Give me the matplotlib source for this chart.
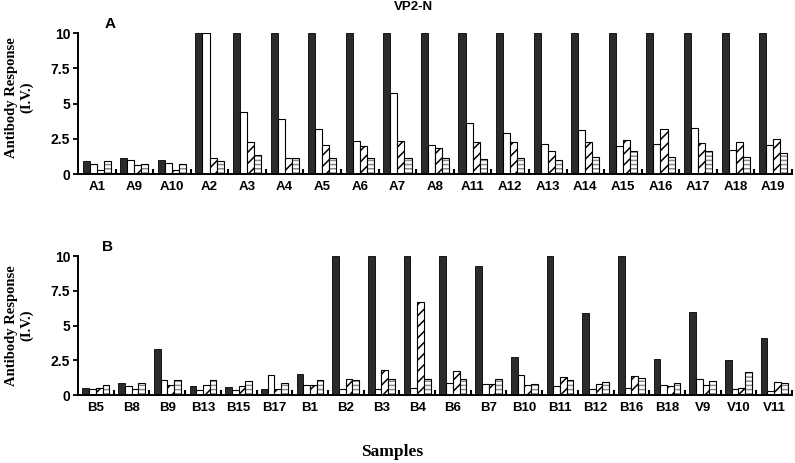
import matplotlib
matplotlib.use("Agg")
import matplotlib.pyplot as plt
import numpy as np

# ---------------- data ----------------
title = "VP2-N"
samples_a = ["A1", "A9", "A10", "A2", "A3", "A4", "A5", "A6", "A7", "A8",
             "A11", "A12", "A13", "A14", "A15", "A16", "A17", "A18", "A19"]
dark_a = [0.93, 1.17, 1.0, 10, 10, 10, 10, 10, 10, 10,
          10, 10, 10, 10, 10, 10, 10, 10, 10]
white_a = [0.69, 0.98, 0.77, 10, 4.38, 3.88, 3.23, 2.32, 5.74, 2.06,
           3.64, 2.89, 2.15, 3.16, 1.99, 2.13, 3.3, 1.72, 2.03]
diag_a = [0.31, 0.62, 0.29, 1.17, 2.25, 1.15, 2.06, 1.99, 2.34, 1.82,
          2.27, 2.27, 1.65, 2.27, 2.44, 3.23, 2.2, 2.27, 2.51]
horiz_a = [0.89, 0.72, 0.72, 0.91, 1.32, 1.15, 1.15, 1.12, 1.12, 1.17,
           1.05, 1.17, 0.98, 1.2, 1.63, 1.2, 1.63, 1.2, 1.51]

samples_b = ["B5", "B8", "B9", "B13", "B15", "B17", "B1", "B2", "B3", "B4",
             "B6", "B7", "B10", "B11", "B12", "B16", "B18", "V9", "V10", "V11"]
dark_b = [0.53, 0.89, 3.3, 0.69, 0.57, 0.45, 1.51, 10, 10, 10,
          10, 9.3, 2.73, 10, 5.88, 10, 2.58, 6.0, 2.54, 4.11]
white_b = [0.48, 0.67, 1.08, 0.38, 0.36, 1.44, 0.77, 0.43, 0.43, 0.5,
           0.86, 0.79, 1.46, 0.65, 0.48, 0.55, 0.74, 1.2, 0.45, 0.31]
diag_b = [0.55, 0.43, 0.72, 0.72, 0.67, 0.48, 0.77, 1.15, 1.84, 6.72,
          1.75, 0.79, 0.72, 1.32, 0.84, 1.41, 0.65, 0.72, 0.53, 0.96]
horiz_b = [0.72, 0.86, 1.08, 1.08, 1.03, 0.86, 1.08, 1.08, 1.2, 1.2,
           1.2, 1.2, 0.84, 1.08, 0.93, 1.22, 0.89, 1.03, 1.67, 0.89]

y_ticks = [0, 2.5, 5, 7.5, 10]
y_tick_labels = ["0", "2.5", "5", "7.5", "10"]

# ---------------- style ----------------
plt.rcParams["font.family"] = ["Liberation Sans", "DejaVu Sans"]
plt.rcParams["hatch.linewidth"] = 1.1

W, H = 795, 463
fig = plt.figure(figsize=(W / 100, H / 100), dpi=100)

def fx(px):
    return px / W

def fy(py):
    return 1 - py / H

ax_left, ax_right = 78, 792
axA = fig.add_axes([fx(ax_left), fy(174), fx(ax_right - ax_left), (174 - 33.3) / H])
axB = fig.add_axes([fx(ax_left), fy(395.3), fx(ax_right - ax_left), (395.3 - 256) / H])

dark_col = "#2b2b2b"
bw = 0.1875

def draw_panel(ax, names, dk, wh, dg, hz, label_y):
    n = len(names)
    x = np.arange(n) + 0.5
    ax.bar(x - 1.5 * bw, dk, bw, color=dark_col, edgecolor="black", linewidth=0.6)
    ax.bar(x - 0.5 * bw, wh, bw, color="white", edgecolor="black", linewidth=0.8)
    ax.bar(x + 0.5 * bw, dg, bw, color="white", edgecolor="black", linewidth=0.8,
           hatch="///")
    # horizontal hatch in grey, outline in black
    ax.bar(x + 1.5 * bw, hz, bw, color="white", edgecolor="#8a8a8a", linewidth=0,
           hatch="----")
    ax.bar(x + 1.5 * bw, hz, bw, fill=False, edgecolor="black", linewidth=0.8)
    ax.set_xlim(0, n)
    ax.set_ylim(0, 10)
    ax.set_xticks(x)
    ax.set_xticklabels(names, fontsize=9.5, fontweight="bold")
    ax.set_xticks(np.arange(1, n + 1), minor=True)
    ax.tick_params(axis="x", which="major", length=0, pad=5)
    ax.tick_params(axis="x", which="minor", direction="in", length=3.5, width=1.5)
    ax.set_yticks(y_ticks)
    ax.set_yticklabels(y_tick_labels, fontsize=10, fontweight="bold")
    ax.tick_params(axis="y", direction="out", length=3.5, width=1.3, pad=2)
    for s in ["top", "right"]:
        ax.spines[s].set_visible(False)
    for s in ["left", "bottom"]:
        ax.spines[s].set_linewidth(1.4)
    ax.set_ylabel("Antibody Response\n(I.V.)", fontsize=10.5, fontweight="bold",
                  family=["Liberation Serif", "DejaVu Serif"],
                  linespacing=1.15, va="center", ha="center")
    ax.yaxis.set_label_coords((19 - ax_left) / (ax_right - ax_left), label_y)

draw_panel(axA, samples_a, dark_a, white_a, diag_a, horiz_a, 0.545)
draw_panel(axB, samples_b, dark_b, white_b, diag_b, horiz_b, 0.50)

fig.text(fx(413), fy(7.5), title, ha="center", va="center", fontsize=9.5,
         fontweight="bold")
fig.text(fx(110), fy(23.5), "A", ha="center", va="center", fontsize=11,
         fontweight="bold")
fig.text(fx(107.5), fy(247), "B", ha="center", va="center", fontsize=11,
         fontweight="bold")
fig.text(fx(392), fy(456), "Samples", ha="center", va="baseline", fontsize=12.5,
         fontweight="bold", family=["Liberation Serif", "DejaVu Serif"])

fig.savefig("out.png", dpi=100)
